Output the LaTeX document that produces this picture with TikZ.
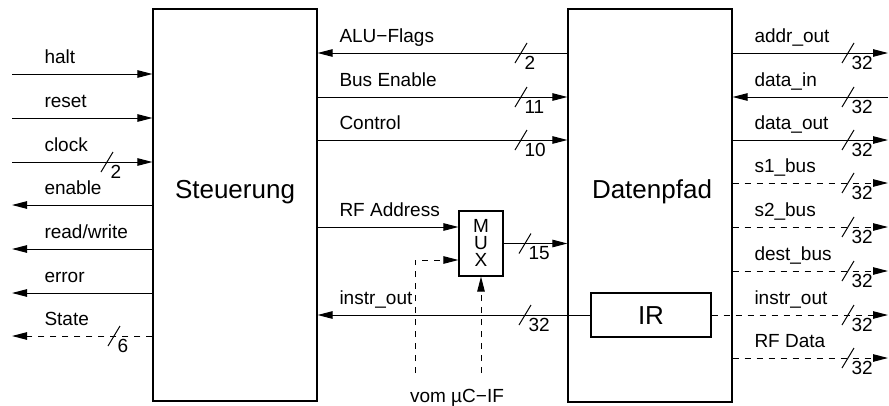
\documentclass[tikz,border=0pt]{standalone}
\usepackage{fontspec}
\setmainfont{Liberation Sans}
\usetikzlibrary{arrows.meta}
\newcommand\buswidth[4]{%
  \draw[solid] (#2-6,#3+10) -- (#2+6,#3-10);
  \node[num] (#1) at (#2+3,#3+2.5) {#4};}
\begin{document}
\begin{tikzpicture}[x=1pt,y=-1pt,
  line width=1pt,
  arr/.style={-{Triangle[length=15pt,width=7.5pt]}},
  dsh/.style={dash pattern=on 6pt off 6pt},
  blk/.style={draw,line width=1.2pt,inner sep=0pt},
  lbl/.style={font=\fontsize{19}{22}\selectfont,inner sep=0pt,anchor=base west},
  num/.style={font=\fontsize{19}{22}\selectfont,inner sep=0pt,anchor=north west},
  big/.style={font=\fontsize{26}{30}\selectfont,inner sep=0pt,anchor=base},
  muxl/.style={font=\fontsize{19}{22}\selectfont,inner sep=0pt,anchor=base},
]
\useasboundingbox (0,0) rectangle (889,405);

% blocks
\node[blk,minimum width=164pt,minimum height=392pt] (st) at (235,205) {};
\node[big] (stT) at (235,198) {Steuerung};
\node[blk,minimum width=164pt,minimum height=393pt] (dp) at (650,205.5) {};
\node[big] (dpT) at (652,198) {Datenpfad};
\node[blk,minimum width=120pt,minimum height=44pt] (ir) at (651,315) {};
\node[big] (irT) at (651,324.5) {IR};
\node[blk,minimum width=44pt,minimum height=65pt] (mux) at (481,243.5) {};
\node[muxl] (muxM) at (481,232) {M};
\node[muxl] (muxU) at (481,249) {U};
\node[muxl] (muxX) at (481,266) {X};

% left side
\coordinate (haltS) at (12,74);
\coordinate (resetS) at (12,118);
\coordinate (clockS) at (12,162);
\coordinate (enableE) at (12,205);
\coordinate (rwE) at (12,249);
\coordinate (errE) at (12,293);
\coordinate (stateE) at (12,336);
\draw[arr] (haltS) -- (haltS -| st.west);
\draw[arr] (resetS) -- (resetS -| st.west);
\draw[arr] (clockS) -- (clockS -| st.west);
\draw[arr] (enableE -| st.west) -- (enableE);
\draw[arr] (rwE -| st.west) -- (rwE);
\draw[arr] (errE -| st.west) -- (errE);
\draw[arr,dsh] (stateE -| st.west) -- (stateE);
\node[lbl] (haltL) at (44,63.5) {halt};
\node[lbl] (resetL) at (44,107.5) {reset};
\node[lbl] (clockL) at (44,151.5) {clock};
\node[lbl] (enableL) at (44,194.5) {enable};
\node[lbl] (rwL) at (44,238.5) {read/write};
\node[lbl] (errL) at (44,282.5) {error};
\node[lbl] (stateL) at (44,325.5) {State};
\buswidth{clockN}{107}{162}{2}
\buswidth{stateN}{114}{336}{6}

% middle
\draw[arr] (dp.west |- 0,53) -- (st.east |- 0,53);
\draw[arr] (st.east |- 0,97) -- (dp.west |- 0,97);
\draw[arr] (st.east |- 0,140) -- (dp.west |- 0,140);
\draw[arr] (st.east |- 0,227) -- ([yshift=16.5pt]mux.west);
\draw[arr] (mux.east) -- (dp.west |- mux.east);
\draw[arr] (ir.west) -- (st.east |- ir.west);
\node[lbl] (aluL) at (339,42.5) {ALU−Flags};
\node[lbl] (busL) at (339,86.5) {Bus Enable};
\node[lbl] (ctrlL) at (339,129.5) {Control};
\node[lbl] (rfaL) at (339,216.5) {RF Address};
\node[lbl] (iroL) at (339,304) {instr\_out};
\buswidth{aluN}{521}{53}{2}
\buswidth{busN}{521}{97}{11}
\buswidth{ctrlN}{521}{140}{10}
\buswidth{muxN}{525}{243.5}{15}
\buswidth{iroN}{525}{315}{32}

% vom uC-IF
\coordinate (vomL) at (415,373);
\coordinate (vomR) at (481,373);
\draw[arr,dsh] (vomL) |- ([yshift=-16.5pt]mux.west);
\draw[arr,dsh] (vomR) -- (mux.south);
\node[lbl,anchor=base] (vomT) at (457,402) {vom µC−IF};

% right side
\coordinate (addrE) at (888,53);
\coordinate (dinS) at (888,97);
\coordinate (doutE) at (888,140);
\coordinate (s1E) at (888,183);
\coordinate (s2E) at (888,227);
\coordinate (destE) at (888,271);
\coordinate (iroE) at (888,315);
\coordinate (rfdE) at (888,358);
\draw[arr] (addrE -| dp.east) -- (addrE);
\draw[arr] (dinS) -- (dinS -| dp.east);
\draw[arr] (doutE -| dp.east) -- (doutE);
\draw[arr,dsh] (s1E -| dp.east) -- (s1E);
\draw[arr,dsh] (s2E -| dp.east) -- (s2E);
\draw[arr,dsh] (destE -| dp.east) -- (destE);
\draw[arr,dsh] (ir.east) -- (iroE);
\draw[arr,dsh] (rfdE -| dp.east) -- (rfdE);
\node[lbl] (addrL) at (754,42.5) {addr\_out};
\node[lbl] (dinL) at (754,86.5) {data\_in};
\node[lbl] (doutL) at (754,129.5) {data\_out};
\node[lbl] (s1L) at (754,172.5) {s1\_bus};
\node[lbl] (s2L) at (754,216.5) {s2\_bus};
\node[lbl] (destL) at (754,260.5) {dest\_bus};
\node[lbl] (iroRL) at (754,304.5) {instr\_out};
\node[lbl] (rfdL) at (754,347.5) {RF Data};
\buswidth{addrN}{848}{53}{32}
\buswidth{dinN}{848}{97}{32}
\buswidth{doutN}{848}{140}{32}
\buswidth{s1N}{848}{183}{32}
\buswidth{s2N}{848}{227}{32}
\buswidth{destN}{848}{271}{32}
\buswidth{iroRN}{848}{315}{32}
\buswidth{rfdN}{848}{358}{32}
\end{tikzpicture}
\end{document}
